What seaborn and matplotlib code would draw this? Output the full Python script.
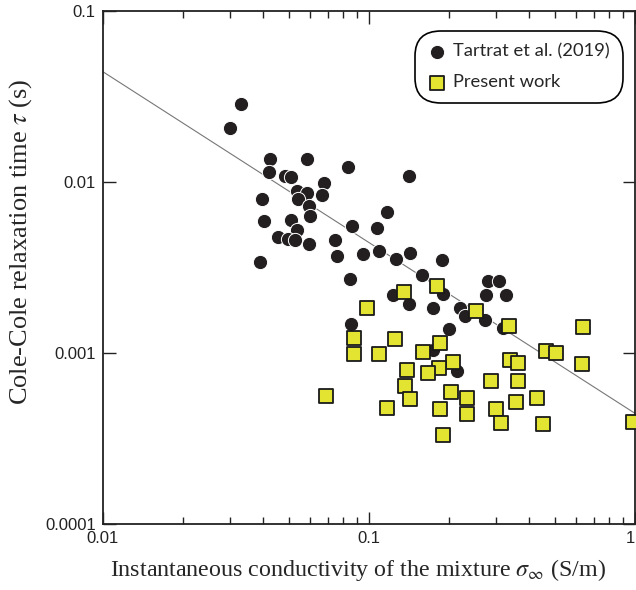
import numpy as np
import pandas as pd
import seaborn as sns
import matplotlib
matplotlib.use("Agg")
import matplotlib.pyplot as plt
from matplotlib.ticker import LogLocator, FixedLocator, NullFormatter, FixedFormatter

# ---- data ----
tartrat_sigma = [0.0331, 0.0302, 0.0425, 0.0588, 0.0837, 0.0420, 0.0484, 0.0509, 0.0678,
                 0.0397, 0.0536, 0.0584, 0.0665, 0.0543, 0.0596, 0.0603, 0.1169, 0.0405,
                 0.0512, 0.0535, 0.0864, 0.1073, 0.0457, 0.0497, 0.0528, 0.0596, 0.0748,
                 0.0389, 0.0756, 0.0954, 0.1091, 0.1264, 0.1433, 0.1882, 0.1579, 0.0849,
                 0.1418, 0.2795, 0.3090, 0.1229, 0.1893, 0.2748, 0.3266, 0.1411, 0.1745,
                 0.2200, 0.2296, 0.2738, 0.3182, 0.2004, 0.0859, 0.1736, 0.2148]
tartrat_tau = [0.0285, 0.02067, 0.01376, 0.01367, 0.01223, 0.01155, 0.01094, 0.01072, 0.00985,
               0.00797, 0.00894, 0.00865, 0.00842, 0.00795, 0.00729, 0.00634, 0.00672, 0.00593,
               0.00605, 0.00523, 0.00551, 0.00536, 0.00477, 0.00463, 0.00456, 0.00435, 0.00456,
               0.00343, 0.00370, 0.00380, 0.00396, 0.00355, 0.00384, 0.00352, 0.00288, 0.00273,
               0.01091, 0.00265, 0.00265, 0.00219, 0.00222, 0.00218, 0.00218, 0.00193, 0.00184,
               0.00184, 0.00164, 0.00156, 0.00140, 0.00139, 0.00148, 0.00104, 0.00079]

present_sigma = [0.0981, 0.0879, 0.0879, 0.1094, 0.1259, 0.1355, 0.1807, 0.2526, 0.3368,
                 0.1849, 0.1593, 0.2075, 0.1829, 0.1387, 0.1667, 0.3398, 0.3648, 0.2875,
                 0.3648, 0.1369, 0.0690, 0.1427, 0.1169, 0.2029, 0.1849, 0.2336, 0.2336,
                 0.1893, 0.6357, 0.4615, 0.5046, 0.6317, 0.3570, 0.4292, 0.3002, 0.3134,
                 0.4520, 0.9800]
present_tau = [0.00183, 0.00123, 0.000988, 0.000988, 0.00121, 0.00229, 0.00248, 0.00176, 0.00145,
               0.001146, 0.00102, 0.000881, 0.000818, 0.000793, 0.000768, 0.000911, 0.000872, 0.000687,
               0.000687, 0.000642, 0.000563, 0.000539, 0.000475, 0.000594, 0.000469, 0.000544, 0.000439,
               0.000332, 0.001427, 0.001033, 0.000997, 0.00086, 0.00052, 0.000544, 0.000469, 0.000388,
               0.000383, 0.000397]

fit_sigma = [0.01, 1.0]
fit_tau = [0.0444, 0.000444]

series_labels = ["Tartrat et al. (2019)", "Present work"]
x_ticks = [0.01, 0.1, 1]
x_ticklabels = ["0.01", "0.1", "1"]
y_ticks = [0.0001, 0.001, 0.01, 0.1]
y_ticklabels = ["0.0001", "0.001", "0.01", "0.1"]

df_t = pd.DataFrame({"sigma": tartrat_sigma, "tau": tartrat_tau})
df_p = pd.DataFrame({"sigma": present_sigma, "tau": present_tau})
df_fit = pd.DataFrame({"sigma": fit_sigma, "tau": fit_tau})

sns.set_style("white")
plt.rcParams["font.family"] = ["Liberation Sans", "DejaVu Sans"]
plt.rcParams["mathtext.fontset"] = "stix"

fig = plt.figure(figsize=(6.36, 5.90), dpi=100)
ax = fig.add_axes([0.1615, 0.1119, 0.8369, 0.8689])
ax.set_xscale("log")
ax.set_yscale("log")

sns.lineplot(data=df_fit, x="sigma", y="tau", ax=ax, color="#777777", linewidth=0.8, zorder=1)
sns.scatterplot(data=df_t, x="sigma", y="tau", ax=ax, marker="o", s=105, color="#231f20",
                edgecolor="white", linewidth=0.7, label=series_labels[0], zorder=2)
sns.scatterplot(data=df_p, x="sigma", y="tau", ax=ax, marker="s", s=115, color="#e3e332",
                edgecolor="#1a1a1a", linewidth=1.3, label=series_labels[1], zorder=3)

ax.set_xlim(0.01, 1)
ax.set_ylim(0.0001, 0.1)

ax.xaxis.set_major_locator(FixedLocator(x_ticks))
ax.xaxis.set_major_formatter(FixedFormatter(x_ticklabels))
ax.xaxis.set_minor_locator(LogLocator(base=10, subs=np.arange(2, 10)))
ax.xaxis.set_minor_formatter(NullFormatter())
ax.yaxis.set_major_locator(FixedLocator(y_ticks))
ax.yaxis.set_major_formatter(FixedFormatter(y_ticklabels))
ax.yaxis.set_minor_locator(FixedLocator([]))

ax.tick_params(which="both", direction="in", top=True, right=True, bottom=True, left=True,
               color="#222222", labelsize=12, labelcolor="#222222", width=1.0, pad=5)
ax.tick_params(which="major", length=9)
ax.tick_params(which="minor", length=5)

fig.canvas.draw()
xl = ax.get_xticklabels()
xl[-1].set_horizontalalignment("right")
xl[-1].set_x(1.0)

for sp in ax.spines.values():
    sp.set_linewidth(1.3)
    sp.set_color("#222222")

ax.set_xlabel(r"Instantaneous conductivity of the mixture $\sigma_\infty$ (S/m)",
              family="Liberation Serif", fontsize=17.3, labelpad=8)
ax.set_ylabel(r"Cole-Cole relaxation time $\tau$ (s)",
              family="Liberation Serif", fontsize=19, labelpad=8)
ax.xaxis.label.set_x(0.479)
ax.yaxis.label.set_y(0.55)

leg = ax.legend(loc="upper right", bbox_to_anchor=(0.9705, 0.955), borderaxespad=0,
                frameon=True, fancybox=True, edgecolor="black", framealpha=1,
                prop={"family": "Lato", "size": 13.2}, handletextpad=0.4, labelspacing=0.8,
                borderpad=0.5, handlelength=1.0, markerscale=1.0)
leg.get_frame().set_linewidth(1.2)
leg.get_frame().set_boxstyle("round,pad=0.2,rounding_size=1.4")

fig.savefig("out.png", dpi=100)
